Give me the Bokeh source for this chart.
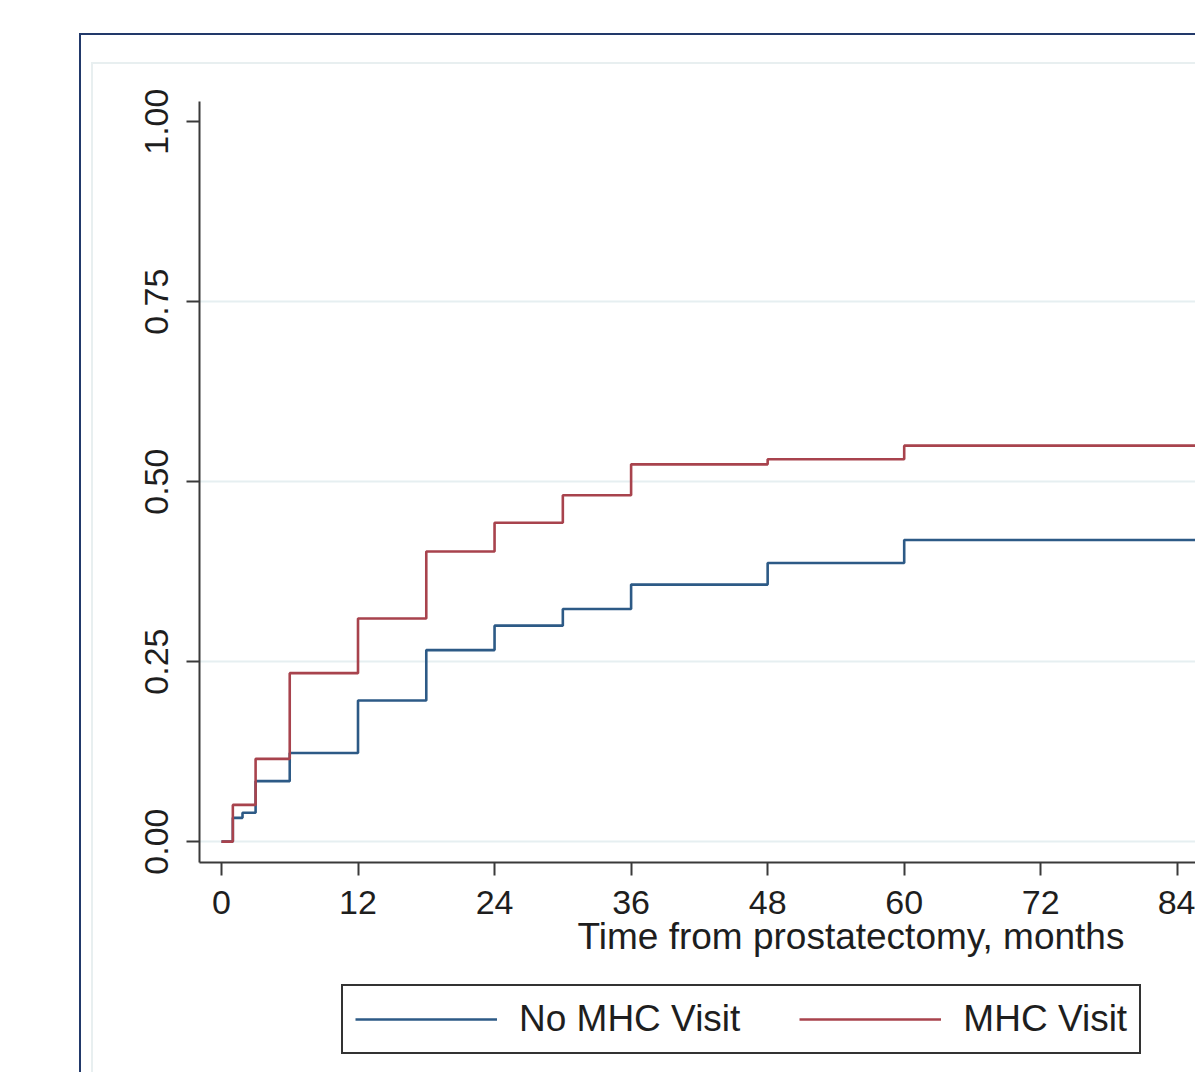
from bokeh.plotting import figure
from bokeh.models import FixedTicker, Legend, LegendItem, Range1d, PrintfTickFormatter, Title
from bokeh.layouts import column
from bokeh.embed import file_html
from bokeh.resources import INLINE

# ---- data ----
months_no_mhc = [0, 1, 1.85, 3, 6, 12, 18, 24, 30, 36, 48, 60, 108]
cuminc_no_mhc = [0, 0.033, 0.040, 0.084, 0.123, 0.196, 0.266, 0.300, 0.323, 0.357, 0.387, 0.419, 0.419]

months_mhc = [0, 1, 3, 6, 12, 18, 24, 30, 36, 48, 60, 108]
cuminc_mhc = [0, 0.051, 0.115, 0.234, 0.310, 0.403, 0.443, 0.481, 0.524, 0.531, 0.550, 0.550]

x_ticks = [0, 12, 24, 36, 48, 60, 72, 84, 96, 108]
y_ticks = [0.0, 0.25, 0.50, 0.75, 1.0]
grid_ticks = [0.0, 0.25, 0.50, 0.75]
series_labels = ["No MHC Visit", "MHC Visit"]
x_title = "Time from prostatectomy, months"

FONT = "Liberation Sans"
TXT = "#1e1e1e"
AX = "#3a3a3a"
BLUE = "#2d5a86"
RED = "#a8434d"
LW = 2.6

# ---------------- main plot ----------------
p = figure(width=1102, height=908,
           x_range=Range1d(-1.93, 85.6), y_range=Range1d(-0.029, 1.028),
           output_backend="svg", toolbar_location=None,
           min_border_left=106, min_border_right=0, min_border_top=37, min_border_bottom=110)
p.outline_line_color = None
p.background_fill_color = "white"
p.border_fill_color = "white"

p.step(months_no_mhc, cuminc_no_mhc, mode="after", line_color=BLUE, line_width=LW)
p.step(months_mhc, cuminc_mhc, mode="after", line_color=RED, line_width=LW)

for ax in (p.xaxis[0], p.yaxis[0]):
    ax.axis_line_color = AX
    ax.axis_line_width = 2
    ax.major_tick_line_color = AX
    ax.major_tick_line_width = 2
    ax.major_tick_in = 0
    ax.major_tick_out = 13
    ax.minor_tick_line_color = None
    ax.major_label_text_font = FONT
    ax.major_label_text_font_size = "34px"
    ax.major_label_text_color = TXT

p.xaxis.ticker = FixedTicker(ticks=x_ticks)
p.xaxis.major_label_standoff = 15
p.yaxis.ticker = FixedTicker(ticks=y_ticks)
p.yaxis.formatter = PrintfTickFormatter(format="%.2f")
p.yaxis.major_label_orientation = "vertical"
p.yaxis.major_label_standoff = 18

p.xgrid.grid_line_color = None
p.ygrid.ticker = FixedTicker(ticks=grid_ticks)
p.ygrid.grid_line_color = "#e6eff1"
p.ygrid.grid_line_width = 2

# x-axis title (the original chart is wider than the crop, so it sits right of centre)
p.add_layout(Title(text=x_title, align="left", offset=378, standoff=-6,
                   text_font=FONT, text_font_size="37px", text_color=TXT,
                   text_font_style="normal"), "below")

# ---------------- legend strip ----------------
# the same series are drawn here outside the visible window, only to serve as legend keys
lg = figure(width=1102, height=100, x_range=Range1d(0, 1), y_range=Range1d(10, 11),
            output_backend="svg", toolbar_location=None, min_border=0)
lg.axis.visible = False
lg.grid.visible = False
lg.outline_line_color = None
lg.border_fill_color = "white"
k_no = lg.step(months_no_mhc, cuminc_no_mhc, mode="after", line_color=BLUE, line_width=LW)
k_yes = lg.step(months_mhc, cuminc_mhc, mode="after", line_color=RED, line_width=LW)

legend = Legend(items=[LegendItem(label=series_labels[0], renderers=[k_no]),
                       LegendItem(label=series_labels[1], renderers=[k_yes])],
                location=(142, 18), orientation="horizontal",
                label_text_font=FONT, label_text_font_size="37px", label_text_color=TXT,
                glyph_width=142, glyph_height=30, label_standoff=22, spacing=59,
                padding=12, margin=0,
                border_line_color="#333333", border_line_width=2, border_line_alpha=1.0,
                background_fill_color="white", background_fill_alpha=1.0)
lg.add_layout(legend, "center")

inner = column(p, lg, spacing=0, margin=(27, 0, 0, 10),
               styles={"border-top": "2px solid #e8eff0", "border-left": "2px solid #e8eff0"})
outer = column(inner, margin=(33, 0, 0, 79),
               styles={"border-top": "2px solid #22396a", "border-left": "2px solid #22396a"})

open("out.html", "w").write(file_html(outer, INLINE))
